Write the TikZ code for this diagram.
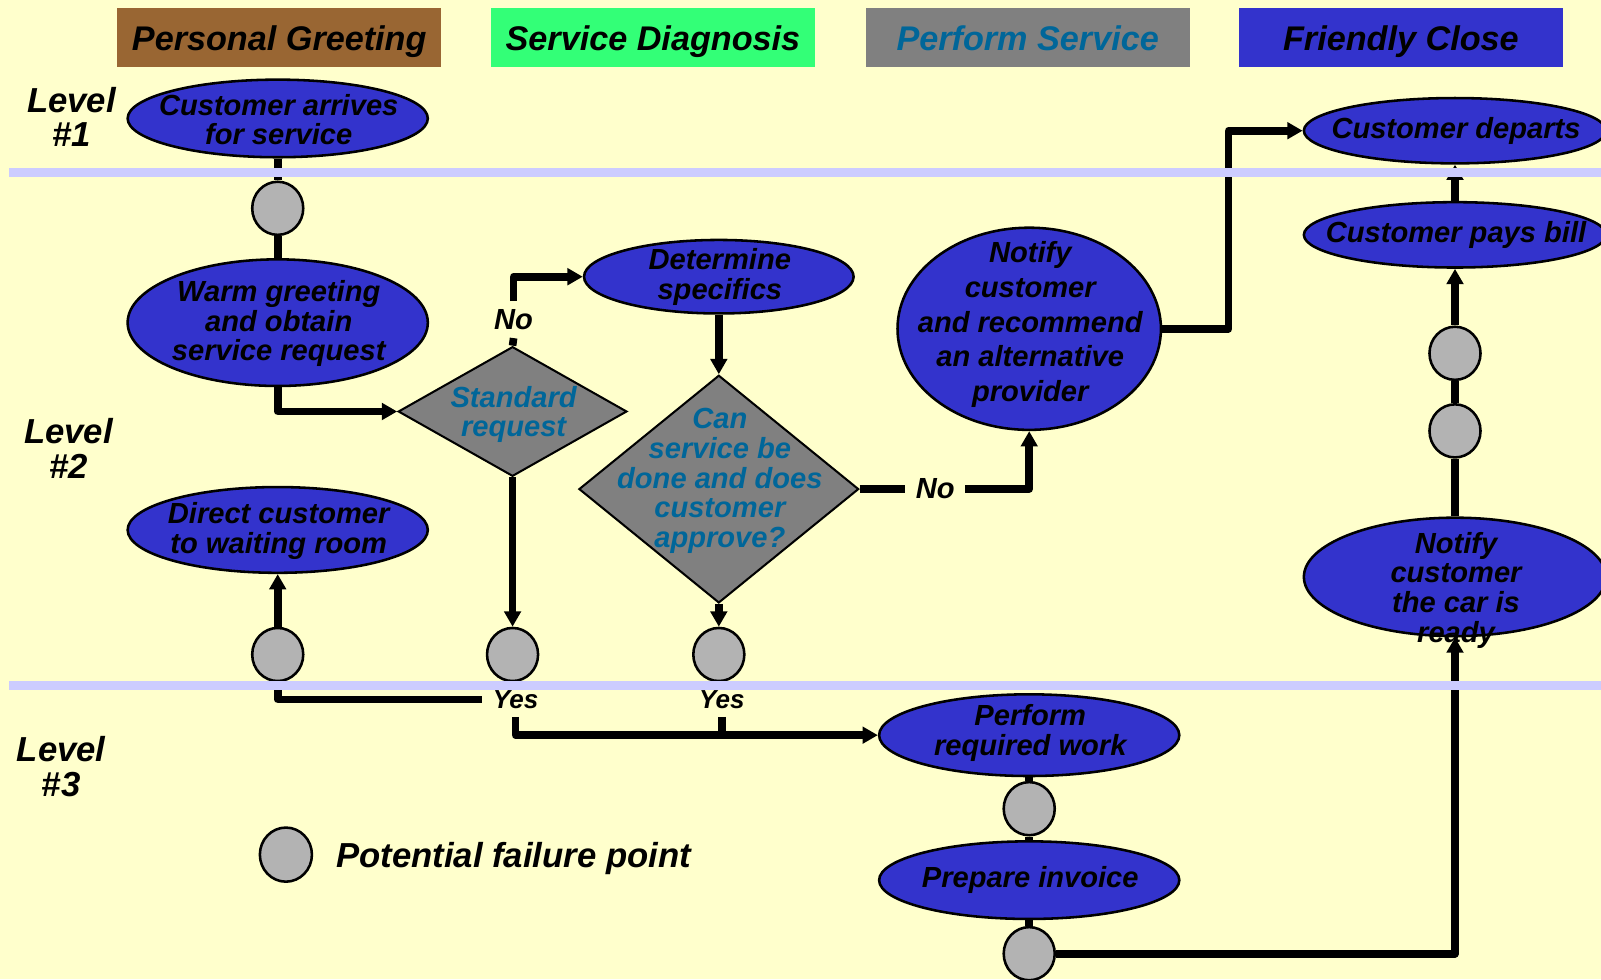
\documentclass[tikz,border=0pt]{standalone}
\usepackage{fontspec}
\setmainfont{Liberation Sans}
\usetikzlibrary{shapes.geometric,arrows.meta,calc}

\definecolor{paper}{HTML}{FFFFCC}
\definecolor{bubblefill}{HTML}{3333CC}
\definecolor{failfill}{HTML}{B3B3B3}
\definecolor{decfill}{HTML}{808080}
\definecolor{dectext}{HTML}{006699}
\definecolor{bandcol}{HTML}{CCCCFF}
\definecolor{greetcol}{HTML}{996633}
\definecolor{diagcol}{HTML}{33FF77}

\tikzset{
  bubble/.style={ellipse, draw=black, line width=2.5pt, fill=bubblefill, inner sep=0pt},
  fpoint/.style={ellipse, draw=black, line width=2.5pt, fill=failfill, inner sep=0pt,
    minimum width=50pt, minimum height=52pt},
  decision/.style={diamond, draw=black, line width=2pt, fill=decfill, inner sep=0pt},
  btext/.style={align=center, inner sep=0pt, font=\bfseries\itshape\fontsize{28.5}{29}\selectfont},
  dtext/.style={btext, text=dectext},
  hdr/.style={minimum width=317pt, minimum height=58pt, inner sep=0pt, text depth=0pt,
    font=\bfseries\itshape\fontsize{33.5}{36}\selectfont},
  lvl/.style={align=center, inner sep=0pt, font=\bfseries\itshape\fontsize{34}{34}\selectfont},
  branch/.style={inner xsep=10pt, inner ysep=8pt, font=\bfseries\itshape\fontsize{28.5}{29}\selectfont},
  yeslabel/.style={inner xsep=11pt, inner ysep=8pt, font=\bfseries\itshape\fontsize{25.5}{26}\selectfont},
  conn/.style={line width=7.5pt, line join=round},
  arrow/.style={conn, -{Triangle[length=15pt,width=16pt]}},
  band/.style={fill=bandcol},
}

\begin{document}
\begin{tikzpicture}[x=1pt,y=-1pt]
\useasboundingbox (0,0) rectangle (1568,959);
\fill[paper] (0,0) rectangle (1568,959);
\clip (0,0) rectangle (1568,959);

% phase headers
\node[hdr, fill=greetcol] (hgreet) at (273.5,37) {Personal Greeting};
\node[hdr, fill=diagcol] (hdiag) at (639.5,37) {Service Diagnosis};
\node[hdr, fill=decfill, text=dectext] (hperf) at (1006.5,37) {Perform Service};
\node[hdr, fill=bubblefill] (hclose) at (1372,37) {Friendly Close};

% level captions
\node[lvl] (lv1) at (70,114.5) {Level\\\#1};
\node[lvl] (lv2) at (67,439) {Level\\\#2};
\node[lvl] (lv3) at (60,751) {Level\\\#3};

% activity bubbles
\node[bubble, minimum width=294pt, minimum height=76pt] (arrive) at (272,116) {};
\node[btext] (arrivet) at (273,117) {Customer arrives\\for service};
\node[bubble, minimum width=294pt, minimum height=124pt] (warm) at (272,316) {};
\node[btext] (warmt) at (273,317) {Warm greeting\\and obtain\\service request};
\node[bubble, minimum width=294pt, minimum height=84pt] (direct) at (272,519) {};
\node[btext] (directt) at (273,520) {Direct customer\\to waiting room};
\node[bubble, minimum width=264pt, minimum height=72pt] (detm) at (704,271) {};
\node[btext] (detmt) at (705,271) {Determine\\specifics};
\node[bubble, minimum width=258pt, minimum height=198pt] (alt) at (1008,322) {};
\node[btext, font=\bfseries\itshape\fontsize{28.5}{34}\selectfont] (altt) at (1009,318)
  {Notify\\customer\\and recommend\\an alternative\\provider};
\node[bubble, minimum width=296pt, minimum height=64pt] (depart) at (1425,128) {};
\node[btext] (departt) at (1426,128) {Customer departs};
\node[bubble, minimum width=296pt, minimum height=64pt] (pays) at (1425,230) {};
\node[btext] (payst) at (1426,230) {Customer pays bill};
\node[bubble, minimum width=296pt, minimum height=116pt] (ready) at (1425,565) {};
\node[btext] (readyt) at (1426,578) {Notify\\customer\\the car is\\ready};
\node[bubble, minimum width=294pt, minimum height=80pt] (work) at (1008,720) {};
\node[btext] (workt) at (1009,718) {Perform\\required work};
\node[bubble, minimum width=294pt, minimum height=76pt] (invoice) at (1008,862) {};
\node[btext] (invoicet) at (1009,862) {Prepare invoice};

% decisions
\node[decision, minimum width=224pt, minimum height=127pt] (std) at (502,403) {};
\node[dtext] (stdt) at (503,406) {Standard\\request};
\node[decision, minimum width=274pt, minimum height=223pt] (can) at (704,479) {};
\node[dtext] (cant) at (705,471) {Can\\service be\\done and does\\customer\\approve?};

% potential failure points
\node[fpoint] (fp1) at (272,204) {};
\node[fpoint] (fp2) at (272,641) {};
\node[fpoint] (fp3) at (502,641) {};
\node[fpoint] (fp4) at (704,641) {};
\node[fpoint] (fp5) at (1425,422) {};
\node[fpoint] (fp6) at (1425,346) {};
\node[fpoint] (fp7) at (1008,792) {};
\node[fpoint] (fp8) at (1008,934) {};

% legend
\node[fpoint, minimum width=51pt, minimum height=53pt] (fplegend) at (280,837) {};
\node[lvl, anchor=west, text depth=0pt] (legendt) at (329,837) {Potential failure point};

% branch labels
\node[branch] (no1) at (503,313) {No};
\node[branch] (no2) at (916,479) {No};
\node[yeslabel] (yes1) at (505,685) {Yes};
\node[yeslabel] (yes2) at (707,685) {Yes};

% connectors
\draw[conn] (arrive.south) -- (fp1.north);
\draw[conn] (fp1.south) -- (warm.north);
\draw[arrow] (warm.south) |- (std.west);
\draw[conn] (std.north) -- (no1.south);
\draw[arrow] (no1.north) |- (detm.west);
\draw[arrow] (std.south) -- (fp3.north);
\draw[arrow] (detm.south) -- (can.north);
\draw[arrow] (can.south) -- (fp4.north);
\draw[conn] (can.east) -- (no2.west);
\draw[arrow] (no2.east) -| (alt.south);
\coordinate (altbend) at ($(alt.east)+(65,0)$);
\draw[arrow] (alt.east) -- (altbend) |- (depart.west);
\draw[arrow] (pays.north) -- (depart.south);
\draw[conn] (ready.north) -- (fp5.south);
\draw[conn] (fp5.north) -- (fp6.south);
\draw[arrow] (fp6.north) -- (pays.south);
\draw[arrow] (fp8.east) -| (ready.south);
\draw[conn] (work.south) -- (fp7.north);
\draw[conn] (fp7.south) -- (invoice.north);
\draw[conn] (invoice.south) -- (fp8.north);
\draw[arrow] (fp2.north) -- (direct.south);
\draw[conn] (fp2.south) |- (yes1.west);
\draw[arrow] (yes1.south) |- (work.west);
\coordinate (yesjoin) at (yes2.south |- work.west);
\draw[conn] (yes2.south) -- (yesjoin);

% level separators, laid over the flow lines
\fill[band] (9,164.3) rectangle (1568,173.3);
\fill[band] (9,666.5) rectangle (1568,675.5);
\end{tikzpicture}
\end{document}
